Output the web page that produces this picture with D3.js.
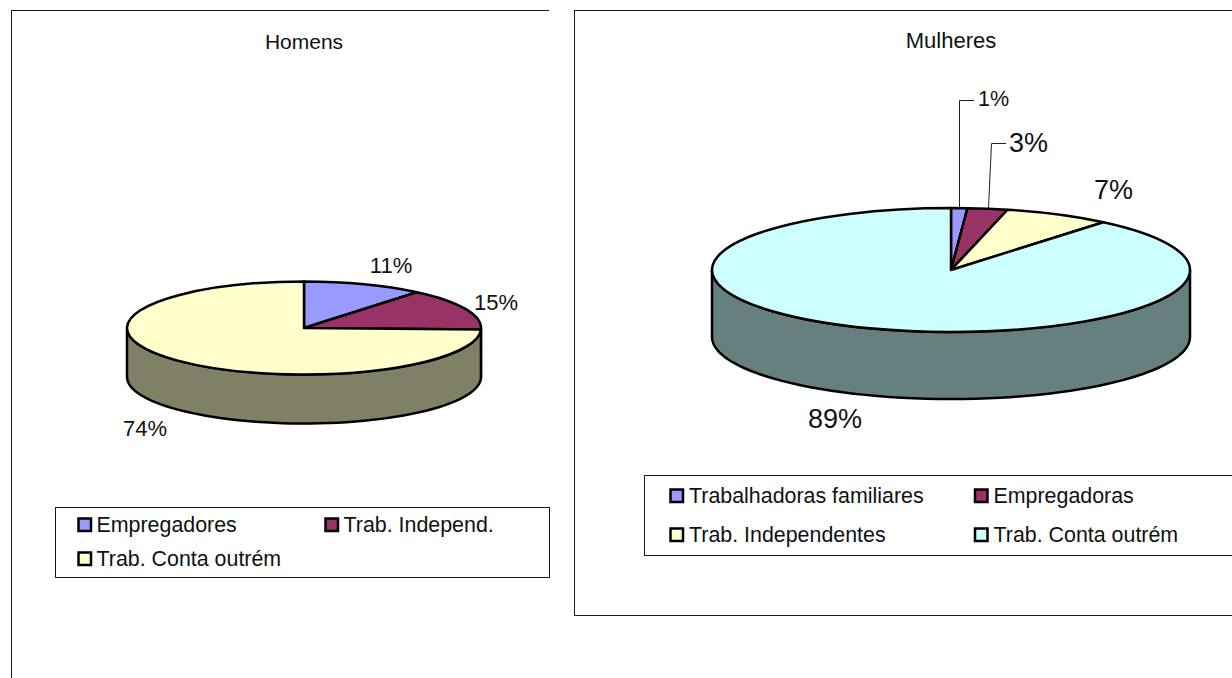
<!DOCTYPE html>
<html><head><meta charset="utf-8">
<script src="https://cdnjs.cloudflare.com/ajax/libs/d3/7.8.5/d3.min.js"></script>
<style>html,body{margin:0;padding:0;background:#fff}svg{display:block}text{font-family:"Liberation Sans",Arial,sans-serif;fill:#111}</style>
</head><body><svg id="c" width="1232" height="678"></svg>
<script>
const homensCategories = ["Empregadores","Trab. Independ.","Trab. Conta outrém"];
const homensValues = [11.0,14.5,74.4];
const homensColors = ["#9999FF","#993366","#FFFFCC"];
const mulheresCategories = ["Trabalhadoras familiares","Empregadoras","Trab. Independentes","Trab. Conta outrém"];
const mulheresValues = [1.1,2.7,7.2,89.0];
const mulheresColors = ["#9999FF","#993366","#FFFFCC","#CCFFFF"];

const svg = d3.select("#c");
const LINE = "#1a1a1a";

function frame(d){ svg.append("path").attr("d",d).attr("fill","none").attr("stroke",LINE).attr("stroke-width",1).attr("shape-rendering","crispEdges"); }

function chart(o){
  const g = svg.append("g");
  g.append("text").attr("x",o.title[0]).attr("y",o.title[1]).attr("text-anchor","middle").attr("dominant-baseline","central").attr("font-size",o.titleSize).text(o.name);
  const arcs = d3.pie().sort(null)(o.values);
  const sx = d3.scaleLinear().domain([-1,1]).range([o.cx-o.rx,o.cx+o.rx]);
  const sy = d3.scaleLinear().domain([-1,1]).range([o.cy-o.ry,o.cy+o.ry]);
  const pt = (a,off)=>[sx(Math.sin(a)),sy(-Math.cos(a))+off];
  const line = d3.line();
  arcs.forEach((a,i)=>{
    const s=Math.max(a.startAngle,Math.PI/2), e=Math.min(a.endAngle,3*Math.PI/2);
    if(e<=s) return;
    const ts=d3.range(0,61).map(k=>s+(e-s)*k/60);
    const pts=[...ts.map(t=>pt(t,0)),...ts.slice().reverse().map(t=>pt(t,o.depth))];
    const col=d3.color(o.colors[i]);
    g.append("path").attr("d",line(pts)+"Z")
      .attr("fill",d3.rgb(col.r/2,col.g/2,col.b*0.5))
      .attr("stroke","#000").attr("stroke-width",2.5).attr("stroke-linejoin","round");
  });
  const arc=d3.arc().innerRadius(0).outerRadius(o.rx);
  g.append("g").attr("transform",`translate(${o.cx},${o.cy}) scale(1,${o.ry/o.rx})`)
    .selectAll("path").data(arcs).join("path").attr("d",arc)
    .attr("fill",(d,i)=>o.colors[i]).attr("stroke","#000").attr("stroke-width",2.5)
    .attr("stroke-linejoin","round").attr("vector-effect","non-scaling-stroke");
  o.leaders.forEach(l=>{
    g.append("path").attr("d",line(l)).attr("fill","none").attr("stroke","#222").attr("stroke-width",1);
  });
  o.labels.forEach((l,i)=>{
    g.append("text").attr("x",l[0]).attr("y",l[1]).attr("text-anchor","middle").attr("dominant-baseline","central")
      .attr("font-size",l[2]).text(Math.round(o.values[i])+"%");
  });
  const L=o.legend;
  g.append("path").attr("d",`M${L.x1},${L.y0}H${L.x0}V${L.y1}H${L.x1}`+(L.closeRight?`V${L.y0}`:"")).attr("fill","none").attr("stroke",LINE).attr("shape-rendering","crispEdges");
  o.categories.forEach((c,i)=>{
    const col=L.cols[i%2], row=L.rows[Math.floor(i/2)];
    g.append("rect").attr("x",col).attr("y",row-6.5).attr("width",12.5).attr("height",12.5)
      .attr("fill",o.colors[i]).attr("stroke","#000").attr("stroke-width",2.5);
    g.append("text").attr("x",col+L.gap).attr("y",row).attr("dominant-baseline","central").attr("font-size",L.size).text(c);
  });
}

frame("M549,10.5H11.5V678");
frame("M1232,10.5H574.5V615.5H1232");

chart({name:"Homens",title:[304,41],titleSize:21,categories:homensCategories,values:homensValues,colors:homensColors,
  cx:304,cy:328,rx:177,ry:46.5,depth:49,
  labels:[[391,265,22],[496,302,22],[145,428,22]],leaders:[],
  legend:{x0:55.5,x1:549.5,y0:507.5,y1:577.5,closeRight:true,cols:[78.5,325.5],rows:[525,559],gap:18,size:21.4}});

chart({name:"Mulheres",title:[951,40],titleSize:22,categories:mulheresCategories,values:mulheresValues,colors:mulheresColors,
  cx:951,cy:270,rx:239,ry:62,depth:67,
  labels:[[993.5,99,21.5],[1028.5,143,27],[1113.5,190,27],[835,419,27]],
  leaders:[[[959.5,208],[959.5,100.5],[974,100.5]],[[988.5,208],[991.5,143.5],[1006,143.5]]],
  legend:{x0:644.5,x1:1232,y0:475.5,y1:555.5,closeRight:false,cols:[670.5,975],rows:[496,535],gap:18.5,size:21.4}});
</script></body></html>
